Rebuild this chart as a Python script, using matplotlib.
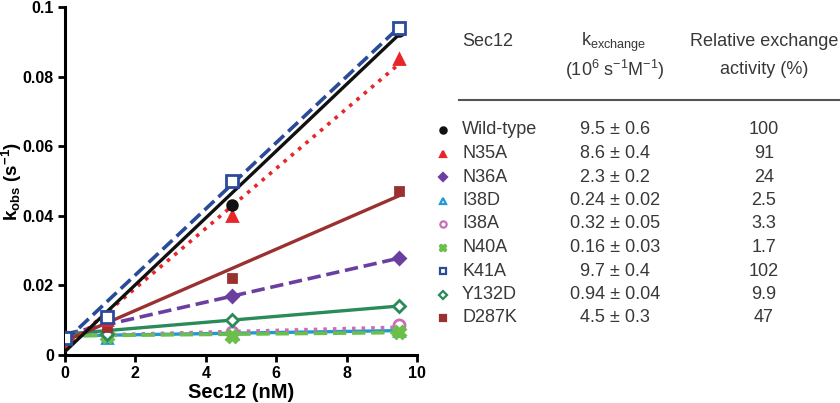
import matplotlib
matplotlib.use("Agg")
import matplotlib.pyplot as plt
import numpy as np

plt.rcParams['font.family'] = ['Liberation Sans', 'DejaVu Sans']
plt.rcParams['mathtext.fontset'] = 'custom'
plt.rcParams['mathtext.rm'] = 'Liberation Sans'
plt.rcParams['mathtext.it'] = 'Liberation Sans'
plt.rcParams['mathtext.bf'] = 'Liberation Sans:bold'

# ---- data ----
sec12_nM = [0, 1.2, 4.75, 9.5]
names = ["Wild-type", "N35A", "N36A", "I38D", "I38A", "N40A", "K41A", "Y132D", "D287K"]
kobs = {
    "Wild-type": [0.005, 0.011, 0.043, 0.093],
    "N35A":      [0.005, 0.010, 0.040, 0.085],
    "N36A":      [0.005, 0.010, 0.017, 0.028],
    "I38D":      [0.005, 0.005, 0.006, 0.007],
    "I38A":      [0.005, 0.006, 0.0065, 0.0085],
    "N40A":      [0.005, 0.0055, 0.0055, 0.0065],
    "K41A":      [0.005, 0.011, 0.050, 0.094],
    "Y132D":     [0.005, 0.006, 0.010, 0.014],
    "D287K":     [0.005, 0.008, 0.022, 0.047],
}
# fitted line: slope, intercept
fit_slope = [0.0096, 0.0086, 0.0023, 0.00016, 0.00026, 0.0001, 0.0095, 0.00085, 0.0044]
fit_intercept = [0.001, 0.002, 0.006, 0.0055, 0.0055, 0.0055, 0.004, 0.006, 0.004]
kexchange = ["9.5 ± 0.6", "8.6 ± 0.4", "2.3 ± 0.2", "0.24 ± 0.02", "0.32 ± 0.05",
             "0.16 ± 0.03", "9.7 ± 0.4", "0.94 ± 0.04", "4.5 ± 0.3"]
relative = ["100", "91", "24", "2.5", "3.3", "1.7", "102", "9.9", "47"]

xticks = [0, 2, 4, 6, 8, 10]
yticks = [0, 0.02, 0.04, 0.06, 0.08, 0.1]
ytick_labels = ["0", "0.02", "0.04", "0.06", "0.08", "0.1"]

# ---- styles ----
colors = ["#111111", "#e8262a", "#6b3fa0", "#1f9ad6", "#c86fb8", "#6abf4b", "#2a4a9a", "#2a8a5a", "#9b3030"]
markers = ["o", "^", "D", "^", "o", "X", "s", "D", "s"]
filled = [True, True, True, False, False, True, False, False, True]
msizes = [7, 7, 6, 7, 8, 8, 8, 6, 6]
lstyles = ["-", ":", "--", "-", ":", "--", "--", "-", "-"]
lwidths = [2.4, 2.6, 2.6, 2.4, 2.6, 2.6, 2.6, 2.4, 2.4]
zorders = [5, 4, 3, 2, 2, 2, 6, 3, 3]

fig = plt.figure(figsize=(8.4, 4.03), dpi=100)
ax = fig.add_axes([65/840, 1-355/403, (417-65)/840, (355-7)/403])

xline = np.array([0, 9.5])
for i, n in enumerate(names):
    c = colors[i]
    ax.plot(xline, fit_slope[i]*xline + fit_intercept[i], ls=lstyles[i], lw=lwidths[i],
            color=c, zorder=zorders[i], dash_capstyle='butt')
    ax.plot(sec12_nM, kobs[n], ls='none', marker=markers[i], ms=msizes[i],
            mfc=c if filled[i] else 'white', mec=c, mew=2, zorder=zorders[i]+0.5)

ax.set_xlim(0, 10)
ax.set_ylim(0, 0.1)
ax.set_xticks(xticks)
ax.set_yticks(yticks)
ax.set_xticklabels([str(t) for t in xticks], fontweight='bold', fontsize=11.5)
ax.set_yticklabels(ytick_labels, fontweight='bold', fontsize=11.5)
for s in ['top', 'right']:
    ax.spines[s].set_visible(False)
for s in ['left', 'bottom']:
    ax.spines[s].set_linewidth(2.2)
ax.tick_params(width=2, length=5, direction='out', pad=3)
ax.set_xlabel("Sec12 (nM)", fontweight='bold', fontsize=14.5, labelpad=1)
ax.set_ylabel(r"k$_{\mathbf{obs}}$ (s$^{\mathbf{-1}}$)", fontweight='bold', fontsize=13.5)
ax.yaxis.set_label_coords(-41/352, 0.5)
ax.patch.set_alpha(0)

# ---- table ----
tab = fig.add_axes([0, 0, 1, 1])
tab.set_xlim(0, 840)
tab.set_ylim(403, 0)
tab.axis('off')
fs = 13
tc = "#383838"
tab.text(462, 42, "Sec12", fontsize=fs, va='center', ha='left', color=tc)
tab.text(614, 42, r"k$_{\mathrm{exchange}}$", fontsize=fs, va='center', ha='center', color=tc)
tab.text(615, 70, r"(10$^{6}$ s$^{\mathrm{-1}}$M$^{\mathrm{-1}}$)", fontsize=fs, va='center', ha='center', color=tc)
tab.text(764, 42, "Relative exchange", fontsize=fs, va='center', ha='center', color=tc)
tab.text(764, 70, "activity (%)", fontsize=fs, va='center', ha='center', color=tc)
tab.plot([459, 840], [100, 100], color="#555555", lw=1.5)

row0 = 130
dy = 23.5
for i, n in enumerate(names):
    y = row0 + i*dy
    c = colors[i]
    tab.plot([443], [y], marker=markers[i], ms=4.5 if markers[i] != 'D' else 4,
             mfc=c if filled[i] else 'white', mec=c, mew=1.6, ls='none')
    tab.text(462, y, n, fontsize=fs, va='center', ha='left', color=tc)
    tab.text(615, y, kexchange[i], fontsize=fs, va='center', ha='center', color=tc)
    tab.text(764, y, relative[i], fontsize=fs, va='center', ha='center', color=tc)

fig.savefig("out.png", dpi=100)
